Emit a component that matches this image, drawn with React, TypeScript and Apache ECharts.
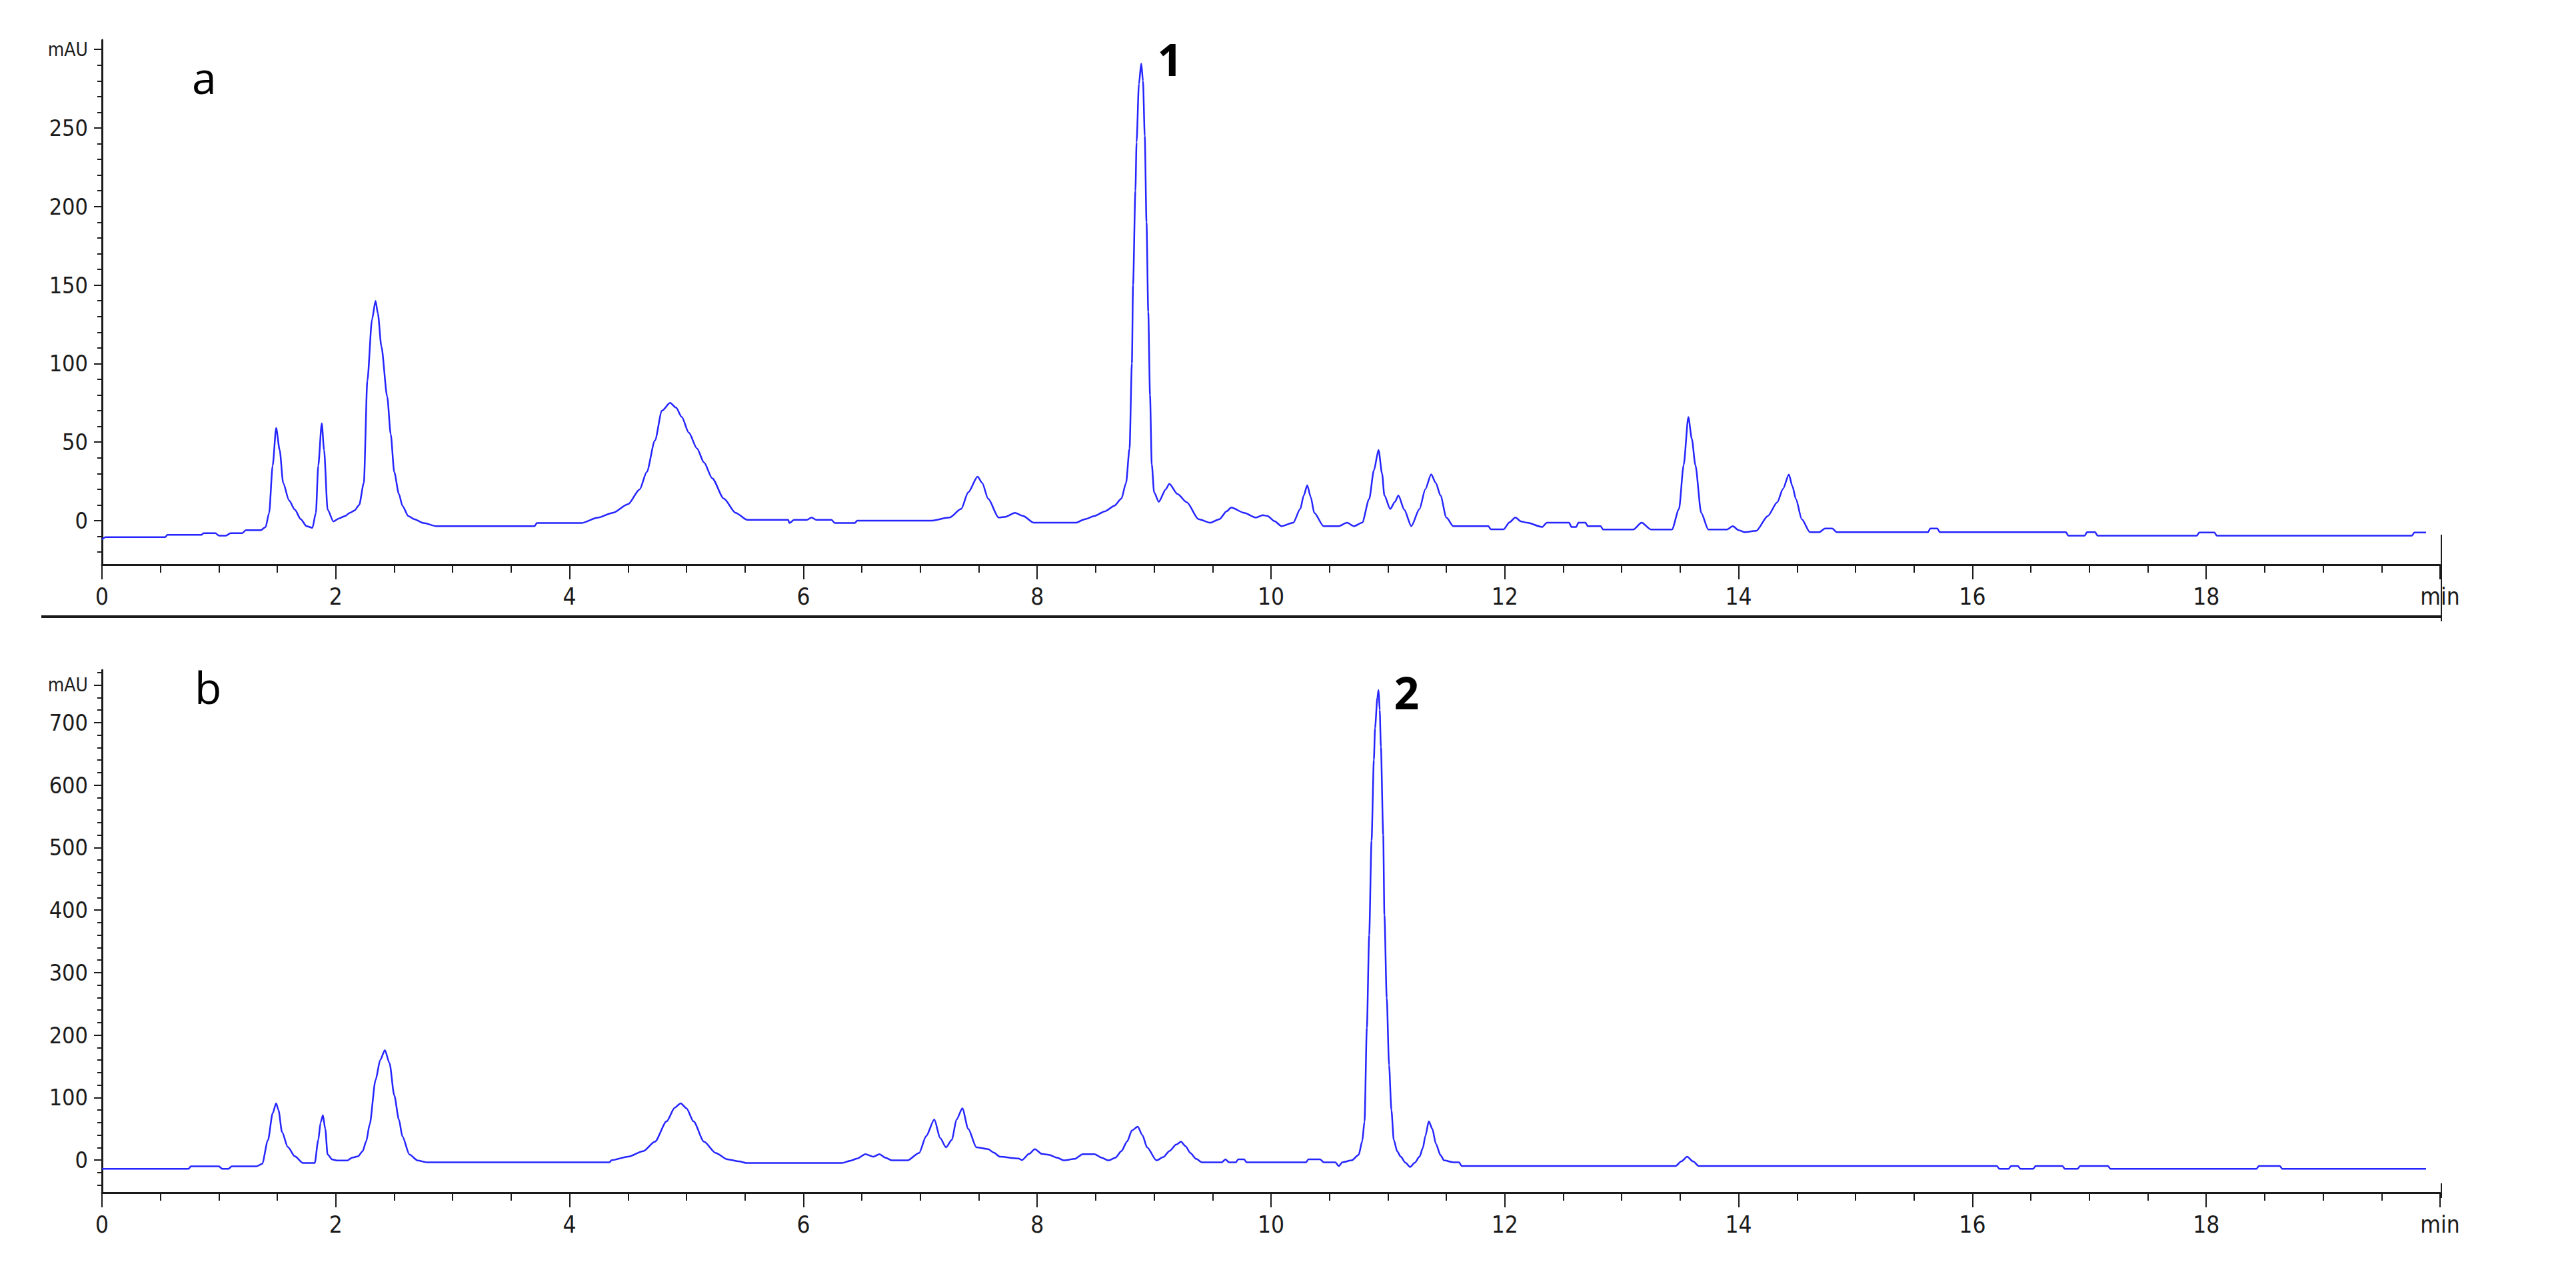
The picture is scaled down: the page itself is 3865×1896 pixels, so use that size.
import React, { useEffect, useRef } from "react";
import * as echarts from "echarts";

// ---- data (time in min, absorbance in mAU) ----
const traceA: [number, number][] = [
  [0, -12], [0.03, -10.5], [0.54, -10.5], [0.56, -9], [0.85, -9], [0.87, -8], [0.97, -8], [1.0, -9.5],
  [1.06, -9.5], [1.1, -8], [1.2, -8], [1.23, -6], [1.36, -6], [1.4, -4], [1.43, 5], [1.46, 35],
  [1.49, 59], [1.52, 45], [1.55, 24], [1.6, 13], [1.65, 7], [1.7, 1], [1.75, -3.5], [1.8, -4.5],
  [1.83, 5], [1.85, 35], [1.88, 62], [1.9, 45], [1.93, 7], [1.98, -0.5], [2.03, 1.5], [2.08, 3],
  [2.12, 5], [2.16, 6.5], [2.2, 10], [2.24, 24], [2.27, 89], [2.31, 128], [2.34, 140], [2.36, 132],
  [2.39, 111], [2.44, 79], [2.47, 55], [2.5, 31], [2.54, 17], [2.57, 9.5], [2.62, 3], [2.67, 1],
  [2.75, -1.5], [2.86, -3.5], [3.7, -3.5], [3.72, -1.5], [4.1, -1.5], [4.24, 1.9], [4.37, 5],
  [4.5, 10.5], [4.6, 20], [4.66, 31], [4.73, 51], [4.79, 70], [4.86, 75], [4.91, 72], [4.96, 66],
  [5.02, 56], [5.09, 46], [5.15, 37], [5.22, 27], [5.32, 14], [5.42, 5], [5.52, 0.5], [5.87, 0.5],
  [5.88, -1.5], [5.92, 0.5], [6.03, 0.5], [6.07, 2], [6.11, 0.5], [6.24, 0.5], [6.27, -1.5],
  [6.44, -1.5], [6.46, 0], [7.09, 0], [7.25, 2], [7.35, 7.5], [7.41, 18], [7.49, 28], [7.53, 24],
  [7.58, 14], [7.67, 2], [7.73, 2.5], [7.81, 5], [7.88, 3], [7.97, -1.3], [8.33, -1.3], [8.41, 1],
  [8.49, 3], [8.58, 6], [8.66, 9.5], [8.72, 14], [8.76, 24], [8.79, 46], [8.81, 100], [8.82, 150],
  [8.84, 210], [8.85, 241], [8.87, 278], [8.89, 291], [8.905, 280], [8.92, 245], [8.935, 190],
  [8.95, 133], [8.965, 80], [8.98, 36], [9.0, 18], [9.04, 12], [9.1, 20], [9.13, 23.5], [9.2, 17],
  [9.28, 11.7], [9.38, 1], [9.48, -1.3], [9.56, 1], [9.62, 6], [9.66, 8.4], [9.77, 5], [9.87, 2],
  [9.93, 3.5], [9.97, 3], [10.03, -0.3], [10.09, -3.5], [10.19, -1.3], [10.25, 7.4], [10.28, 16],
  [10.31, 22.5], [10.34, 15], [10.37, 5], [10.45, -3.5], [10.58, -3.5], [10.65, -1.3], [10.71, -3.5],
  [10.78, -1.3], [10.84, 13.8], [10.88, 32], [10.92, 45], [10.95, 30], [10.97, 16], [11.02, 7.4],
  [11.06, 12], [11.09, 16], [11.14, 7], [11.2, -3.5], [11.27, 7.4], [11.32, 20], [11.37, 29.5],
  [11.41, 24], [11.45, 16], [11.5, 2], [11.56, -3.5], [11.86, -3.5], [11.88, -5.5], [11.99, -5.5],
  [12.04, -1], [12.09, 2], [12.14, -0.5], [12.19, -1.3], [12.32, -4], [12.36, -1.3], [12.55, -1.3],
  [12.57, -4], [12.61, -4], [12.63, -1.3], [12.69, -1.3], [12.71, -3.5], [12.82, -3.5], [12.84, -5.6],
  [13.1, -5.6], [13.17, -1.3], [13.25, -5.6], [13.43, -5.6], [13.49, 7.4], [13.53, 35.5], [13.57, 66],
  [13.6, 52], [13.63, 35.5], [13.68, 5], [13.74, -5.6], [13.9, -5.6], [13.95, -3.5], [14.0, -6],
  [14.05, -7.3], [14.15, -6.5], [14.25, 3], [14.33, 11.7], [14.38, 20.3], [14.43, 29.4], [14.46, 22],
  [14.49, 13.8], [14.54, 1], [14.61, -7.3], [14.69, -7.3], [14.74, -5], [14.8, -5], [14.84, -7.3],
  [15.62, -7.3], [15.64, -5], [15.7, -5], [15.72, -7.3], [16.8, -7.3], [16.82, -9.5], [16.96, -9.5],
  [16.98, -7.3], [17.05, -7.3], [17.07, -9.5], [17.92, -9.5], [17.94, -7.5], [18.07, -7.5],
  [18.09, -9.5], [19.76, -9.5], [19.78, -7.5], [19.88, -7.5],
];

const traceB: [number, number][] = [
  [0, -14], [0.74, -14], [0.76, -10], [1.0, -10], [1.03, -14], [1.08, -14], [1.11, -10], [1.32, -10],
  [1.37, -6], [1.42, 32], [1.46, 75], [1.49, 91], [1.51, 80], [1.54, 45], [1.59, 21], [1.65, 6],
  [1.72, -4.5], [1.82, -4.5], [1.85, 32], [1.87, 60], [1.89, 72], [1.91, 50], [1.93, 9], [1.97, 1],
  [2.01, -0.5], [2.1, -0.5], [2.14, 4], [2.19, 6], [2.23, 14.5], [2.26, 30], [2.29, 57], [2.34, 128],
  [2.38, 160], [2.42, 176], [2.46, 155], [2.5, 104], [2.54, 65], [2.57, 38], [2.63, 9], [2.7, -0.5],
  [2.78, -3.5], [4.34, -3.5], [4.36, 0], [4.5, 5.5], [4.63, 14.5], [4.73, 29.5], [4.83, 62], [4.9, 84],
  [4.95, 91], [5.0, 83], [5.06, 62], [5.15, 29.5], [5.25, 11.5], [5.35, 1.4], [5.45, -2], [5.51, -4.5],
  [6.33, -4.5], [6.4, -1], [6.46, 2.6], [6.53, 9.7], [6.6, 5.5], [6.65, 9.7], [6.7, 4], [6.76, -0.4],
  [6.89, -0.4], [6.99, 11.5], [7.05, 38.5], [7.12, 65], [7.17, 35.5], [7.22, 20.6], [7.27, 32.5],
  [7.31, 65], [7.36, 83], [7.41, 50], [7.48, 20.6], [7.58, 17.6], [7.63, 12], [7.68, 5.5], [7.84, 2.6],
  [7.87, 0], [7.93, 10], [7.98, 17.6], [8.04, 10], [8.1, 8.6], [8.17, 4], [8.23, -0.4], [8.32, 2],
  [8.39, 9.7], [8.49, 9.7], [8.55, 4], [8.61, -0.4], [8.67, 4], [8.72, 14.5], [8.77, 30], [8.81, 47.5],
  [8.86, 53.5], [8.9, 40], [8.94, 20.6], [9.02, -0.4], [9.08, 5], [9.13, 14.5], [9.19, 25], [9.23, 29.5],
  [9.27, 22], [9.31, 11.5], [9.36, 2], [9.41, -3.4], [9.58, -3.4], [9.61, 1.4], [9.64, -3.4], [9.7, -3.4],
  [9.72, 1.4], [9.77, 1.4], [9.79, -3.4], [10.3, -3.4], [10.32, 1.4], [10.42, 1.4], [10.45, -3.4],
  [10.55, -3.4], [10.58, -9.4], [10.61, -3.4], [10.69, -0.4], [10.75, 8.6], [10.78, 30], [10.8, 62],
  [10.82, 212], [10.84, 360], [10.86, 511], [10.88, 640], [10.89, 691], [10.91, 740], [10.92, 752],
  [10.93, 720], [10.94, 661], [10.96, 520], [10.97, 392], [10.99, 260], [11.01, 152], [11.03, 80],
  [11.05, 32.5], [11.08, 14], [11.11, 5.5], [11.15, -4], [11.19, -11], [11.23, -4], [11.27, 5.5],
  [11.3, 20], [11.32, 38.5], [11.35, 62], [11.38, 50], [11.41, 26.5], [11.45, 8], [11.48, -0.4],
  [11.56, -3.4], [11.61, -3.4], [11.63, -9.4], [13.46, -9.4], [13.51, -2], [13.56, 5.5], [13.61, -2],
  [13.66, -9.4], [16.21, -9.4], [16.23, -14], [16.31, -14], [16.33, -9.4], [16.39, -9.4], [16.41, -14],
  [16.52, -14], [16.54, -9.4], [16.77, -9.4], [16.79, -14], [16.9, -14], [16.92, -9.4], [17.16, -9.4],
  [17.18, -14], [18.43, -14], [18.45, -9.4], [18.63, -9.4], [18.65, -14], [19.88, -14],
];

// ---- axes ----
const xRange: [number, number] = [0, 20];
const xMajorStep = 2;
const xEndLabel = "min";
const yRangeA: [number, number] = [-28, 306];
const yRangeB: [number, number] = [-52, 784];
const yLabelsA = [0, 50, 100, 150, 200, 250];
const yUnitTickA = 300;
const yMinorA = [-20, -10, 0, 10, 20, 30, 40, 50, 60, 70, 80, 90, 100, 110, 120, 130, 140, 150, 160, 170,
  180, 190, 200, 210, 220, 230, 240, 250, 260, 270, 280, 290, 300];
const yLabelsB = [0, 100, 200, 300, 400, 500, 600, 700];
const yUnitTickB = 760;
const yMinorB = [-40, -20, 0, 20, 40, 60, 80, 100, 120, 140, 160, 180, 200, 220, 240, 260, 280, 300, 320,
  340, 360, 380, 400, 420, 440, 460, 480, 500, 520, 540, 560, 580, 600, 620, 640, 660, 680, 700, 720, 740,
  760, 780];
const yUnit = "mAU";

// ---- annotations ----
const peakA = { label: "1", time: 8.89, value: 291 };
const peakB = { label: "2", time: 10.92, value: 752 };
const panelLetters = ["a", "b"];

const TRACE = "#2424ff";
const INK = "#1a1a1a";
const NUM_FONT = '"Liberation Sans Narrow", "DejaVu Sans Condensed", "Liberation Sans", Arial, sans-serif';
const TXT_FONT = '"Open Sans", "DejaVu Sans", sans-serif';

const grids = [
  { left: 153, top: 60, width: 3508, height: 787 },
  { left: 153, top: 1005, width: 3508, height: 784 },
];

function xAxisFor(gridIndex: number) {
  return {
    type: "value",
    gridIndex,
    min: xRange[0],
    max: xRange[1],
    interval: xMajorStep,
    axisLine: { show: true, onZero: false, lineStyle: { color: INK, width: 3 } },
    axisTick: { show: true, length: 22, lineStyle: { color: INK, width: 2 } },
    minorTick: { show: true, splitNumber: 4, length: 12, lineStyle: { color: INK, width: 2 } },
    splitLine: { show: false },
    minorSplitLine: { show: false },
    axisLabel: {
      show: true,
      margin: 30,
      fontSize: 35,
      fontFamily: NUM_FONT,
      color: INK,
      showMinLabel: true,
      showMaxLabel: true,
      formatter: (v: number) => (v === xRange[1] ? xEndLabel : String(v)),
    },
  };
}

function yAxesFor(gridIndex: number, range: [number, number], labels: number[], unitTick: number, minor: number[]) {
  const vals = [...labels, unitTick];
  return [
    {
      type: "value",
      gridIndex,
      position: "left",
      min: range[0],
      max: range[1],
      axisLine: { show: true, onZero: false, lineStyle: { color: INK, width: 3 } },
      axisTick: { show: true, length: 12, customValues: vals, lineStyle: { color: INK, width: 2 } },
      splitLine: { show: false },
      axisLabel: {
        show: true,
        customValues: vals,
        margin: 21,
        fontSize: 34,
        fontFamily: NUM_FONT,
        color: INK,
        formatter: (v: number) => (v === unitTick ? "{u|" + yUnit + "}" : String(v)),
        rich: { u: { fontSize: 28, fontFamily: NUM_FONT, color: INK } },
      },
    },
    {
      type: "value",
      gridIndex,
      position: "left",
      offset: 0,
      min: range[0],
      max: range[1],
      axisLine: { show: false, onZero: false },
      axisTick: { show: true, length: 7, customValues: minor, lineStyle: { color: INK, width: 2 } },
      axisLabel: { show: false },
      splitLine: { show: false },
    },
  ];
}

function peakMark(p: { label: string; time: number; value: number }, offset: [number, number]) {
  return {
    silent: true,
    symbol: "circle",
    symbolSize: 1,
    itemStyle: { color: "rgba(0,0,0,0)" },
    data: [{ coord: [p.time, p.value] }],
    label: {
      show: true,
      position: "inside",
      offset,
      formatter: p.label,
      fontSize: 66,
      fontWeight: "bold",
      fontFamily: TXT_FONT,
      color: "#000",
    },
  };
}

export default function App() {
  const ref = useRef<HTMLDivElement>(null);

  useEffect(() => {
    if (!ref.current) return;
    const chart = echarts.init(ref.current, undefined, { renderer: "svg" });
    const option: any = {
      animation: false,
      backgroundColor: "#ffffff",
      grid: grids,
      xAxis: [xAxisFor(0), xAxisFor(1)],
      yAxis: [
        ...yAxesFor(0, yRangeA, yLabelsA, yUnitTickA, yMinorA),
        ...yAxesFor(1, yRangeB, yLabelsB, yUnitTickB, yMinorB),
      ],
      series: [
        {
          type: "line",
          xAxisIndex: 0,
          yAxisIndex: 0,
          data: traceA,
          symbol: "none",
          showSymbol: false,
          smooth: 0.25,
          smoothMonotone: "x",
          lineStyle: { color: TRACE, width: 2.5 },
          markPoint: peakMark(peakA, [43, -7]),
        },
        {
          type: "line",
          xAxisIndex: 1,
          yAxisIndex: 2,
          data: traceB,
          symbol: "none",
          showSymbol: false,
          smooth: 0.25,
          smoothMonotone: "x",
          lineStyle: { color: TRACE, width: 2.5 },
          markPoint: peakMark(peakB, [42, 3]),
        },
      ],
      graphic: [
        {
          type: "text",
          x: 288,
          y: 115,
          style: { text: panelLetters[0], fontSize: 66, fontFamily: TXT_FONT, fill: "#000", align: "left", verticalAlign: "middle" },
        },
        {
          type: "text",
          x: 292,
          y: 1030,
          style: { text: panelLetters[1], fontSize: 66, fontFamily: TXT_FONT, fill: "#000", align: "left", verticalAlign: "middle" },
        },
        { type: "line", shape: { x1: 62, y1: 925, x2: 3664, y2: 925 }, style: { stroke: INK, lineWidth: 4 } },
        { type: "line", shape: { x1: 3663, y1: 802, x2: 3663, y2: 932 }, style: { stroke: INK, lineWidth: 2 } },
        { type: "line", shape: { x1: 3663, y1: 1775, x2: 3663, y2: 1797 }, style: { stroke: INK, lineWidth: 2 } },
      ],
    };
    chart.setOption(option);
    return () => chart.dispose();
  }, []);

  return (
    <div
      ref={ref}
      style={{ position: "fixed", left: 0, top: 0, width: 3865, height: 1896, background: "#fff" }}
    />
  );
}
